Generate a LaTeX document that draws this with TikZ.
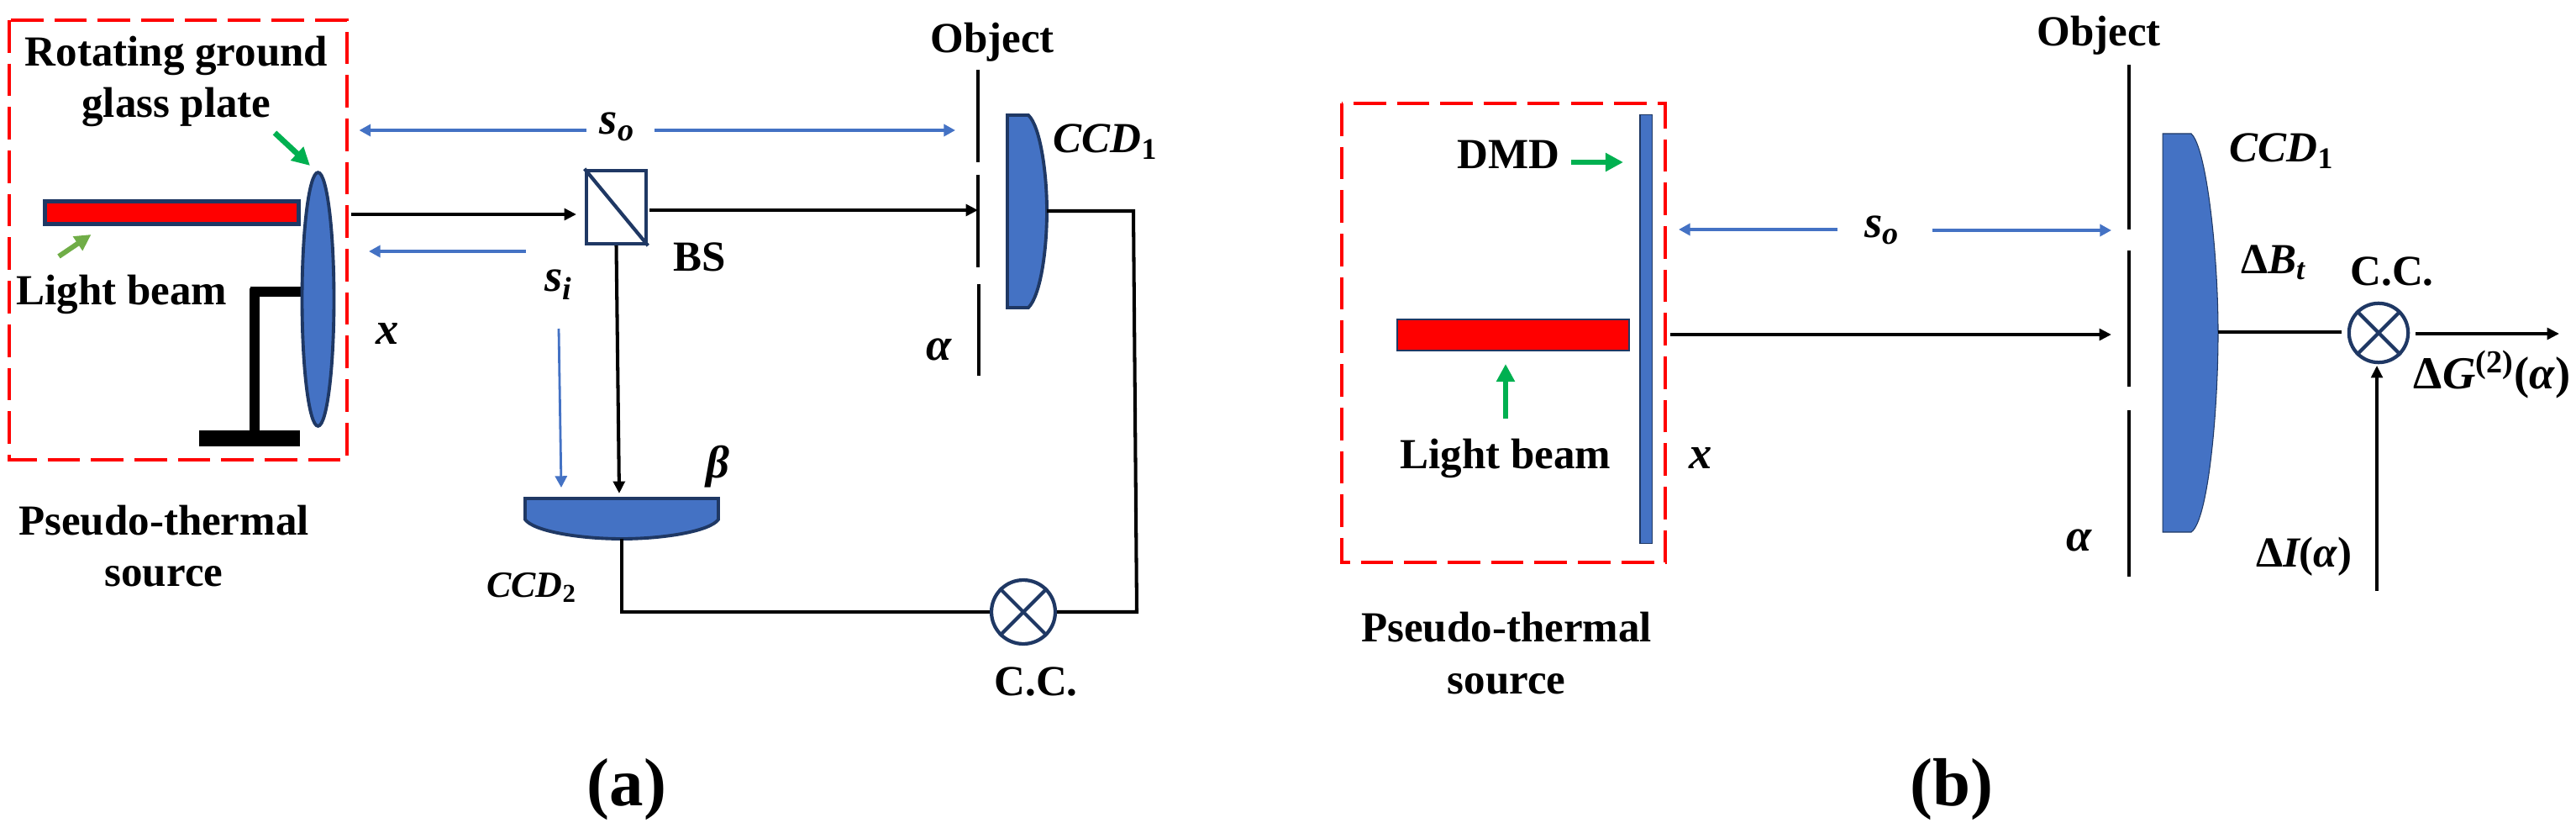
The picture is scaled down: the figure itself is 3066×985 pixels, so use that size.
\documentclass[tikz,border=0pt]{standalone}
\usepackage{fontspec}
\setmainfont{Liberation Serif}
\usetikzlibrary{arrows.meta,shapes.geometric}
\definecolor{optblue}{HTML}{4472C4}
\definecolor{edgeblue}{HTML}{1F3864}
\definecolor{mygreen}{HTML}{00B050}
\definecolor{leafgreen}{HTML}{70AD47}
\tikzset{
  lbl/.style={font=\fontsize{14.5}{17}\selectfont\bfseries,anchor=base,inner sep=0pt},
  sym/.style={font=\fontsize{15.5}{18}\selectfont\bfseries\itshape,anchor=base,inner sep=0pt},
  ccdlbl/.style={font=\fontsize{14.5}{17}\selectfont\bfseries\itshape,anchor=base,inner sep=0pt},
  wire/.style={draw,black,line width=1.15pt},
  beam/.style={wire,-{Triangle[length=4.1pt,width=3.9pt]}},
  dist/.style={draw,optblue,line width=1.1pt,-{Triangle[length=3.9pt,width=4pt]}},
  pointer/.style={draw,mygreen,line width=1.9pt,-{Triangle[length=6pt,width=6pt]}},
  srcbox/.style={draw,red,line width=1.2pt,dash pattern=on 11pt off 3.7pt},
  slit/.style={draw,black,line width=1.2pt},
  detector/.style={draw=edgeblue,fill=optblue,line width=1.1pt},
  redbar/.style={rectangle,draw=edgeblue,fill=red,inner sep=0pt},
  cross/.style={circle,draw=edgeblue,line width=1.2pt,inner sep=0pt},
  caption/.style={font=\fontsize{23}{26}\selectfont\bfseries,anchor=base,inner sep=0pt}
}
\begin{document}
\begin{tikzpicture}[x=0.01cm,y=-0.01cm]
\useasboundingbox (0,0) rectangle (3066,985);

\draw[srcbox] (11,24) rectangle (413,547);
\node[lbl] (rotA) at (210,79) {Rotating ground};
\node[lbl] (rotB) at (210,140) {glass plate};
\coordinate (rotS) at (327,158);
\coordinate (rotE) at (369,197);
\path[pointer] (rotS) -- (rotE);

\draw[black,line width=3.4pt] (303,343) -- (303,512);
\draw[black,line width=3.4pt] (298,347) -- (378,347);
\fill[black] (237,512) rectangle (357,531);
\node[redbar,line width=1.4pt,minimum width=86pt,minimum height=7.9pt] (barA) at (204.5,253) {};
\node[ellipse,detector,inner sep=0pt,minimum width=10.8pt,minimum height=85.8pt] (plate) at (378.5,356) {};

\coordinate (lgtS) at (70,305);
\coordinate (lgtE) at (108.5,279);
\path[draw,leafgreen,line width=1.7pt,-{Triangle[length=5.5pt,width=5.5pt]}] (lgtS) -- (lgtE);
\node[lbl] (lgtA) at (145,362) {Light beam};
\node[sym] (xA) at (461,409) {x};

\node[rectangle,draw=edgeblue,line width=1.3pt,inner sep=0pt,minimum width=20.2pt,minimum height=24.7pt] (bs) at (733.5,246.5) {};
\draw[edgeblue,line width=1.2pt] (bs.north west) -- (bs.south east);
\node[lbl] (bsT) at (833,322) {BS};

\coordinate (inA) at (418,255);
\coordinate (inB) at (686,255);
\path[beam] (inA) -- (inB);
\coordinate (outA) at (773,250);
\coordinate (outB) at (1164,250);
\path[beam] (outA) -- (outB);
\coordinate (downB) at (737,587);
\path[beam] (bs.south) -- (downB);

\node[sym] (soA) at (735,160) {s\textsubscript{o}};
\coordinate (soAl) at (698,155);
\coordinate (soAm) at (427.5,155);
\coordinate (soAr) at (779,155);
\coordinate (soAe) at (1137,155);
\path[dist] (soAl) -- (soAm);
\path[dist] (soAr) -- (soAe);
\node[sym] (siA) at (665,347) {s\textsubscript{i}};
\coordinate (siAr) at (626,299);
\coordinate (siAe) at (439,299);
\path[dist] (siAr) -- (siAe);
\coordinate (siDs) at (665,391);
\coordinate (siDe) at (668,580);
\path[dist,line width=0.8pt] (siDs) -- (siDe);

\node[lbl] (objA) at (1181,63) {Object};
\path[slit] (1164,83) -- (1164,193);
\path[slit] (1164,208) -- (1164,318);
\path[slit] (1165,338) -- (1165,447);
\node[sym] (alA) at (1118,428) {α};
\draw[detector] (1199,137) -- (1224,137) .. controls (1238,150) and (1246,205) .. (1246,251) .. controls (1246,300) and (1238,352) .. (1224,366) -- (1199,366) -- cycle;
\node[ccdlbl] (ccdAa) at (1316,182) {CCD\textsubscript{\upshape 1}};

\draw[detector] (625,593) -- (855,593) -- (855,618) .. controls (845,632) and (790,641) .. (740,641) .. controls (690,641) and (635,632) .. (625,618) -- cycle;
\node[sym] (beA) at (854,568) {β};
\node[ccdlbl,font=\fontsize{12.5}{15}\selectfont\bfseries\itshape] (ccdAb) at (633,710) {CCD\textsubscript{\upshape 2}};

\node[cross,minimum size=21.6pt] (ccA) at (1218,728) {};
\draw[edgeblue,line width=1.2pt] (ccA.north west) -- (ccA.south east);
\draw[edgeblue,line width=1.2pt] (ccA.north east) -- (ccA.south west);
\node[lbl] (ccT) at (1233,827) {C.C.};
\coordinate (ccdAo) at (1246,251);
\coordinate (ccdBo) at (740,641);
\path[wire] (ccdAo) -- (1349,251) -- (1353,728) -- (ccA.east);
\path[wire] (ccdBo) -- (740,728) -- (ccA.west);

\node[lbl] (srcA) at (195,636) {Pseudo-thermal};
\node[lbl] (srcB) at (195,697) {source};
\node[caption] (capA) at (746,958) {(a)};

\draw[srcbox] (1597,123) rectangle (1982,669);
\node[rectangle,draw=edgeblue,fill=optblue,line width=0.3pt,inner sep=0pt,minimum width=4pt,minimum height=145pt] (dmd) at (1959,391.5) {};
\node[lbl] (dmdT) at (1795.5,201) {DMD};
\coordinate (dmdS) at (1870,193);
\coordinate (dmdE) at (1932,193);
\path[pointer] (dmdS) -- (dmdE);
\node[redbar,line width=0.4pt,minimum width=78.4pt,minimum height=10.5pt] (barB) at (1801,398.5) {};
\coordinate (lgtBs) at (1792,498);
\coordinate (lgtBe) at (1792,433);
\path[pointer] (lgtBs) -- (lgtBe);
\node[lbl] (lgtB) at (1792,557) {Light beam};
\node[sym] (xB) at (2024,557) {x};

\coordinate (inBa) at (1988,398);
\coordinate (inBb) at (2513,398);
\path[beam] (inBa) -- (inBb);
\node[sym] (soB) at (2240,283) {s\textsubscript{o}};
\coordinate (soBl) at (2187,273);
\coordinate (soBm) at (1998,273);
\coordinate (soBr) at (2300,274);
\coordinate (soBe) at (2513,274);
\path[dist] (soBl) -- (soBm);
\path[dist] (soBr) -- (soBe);

\node[lbl] (objB) at (2498,55) {Object};
\path[slit] (2534,77) -- (2534,273);
\path[slit] (2534,298) -- (2534,460);
\path[slit] (2534,488) -- (2534,686);
\node[sym] (alB) at (2475,655) {α};
\draw[detector,line width=0.3pt] (2574,159) -- (2608,159) .. controls (2626,175) and (2640,300) .. (2640,396) .. controls (2640,490) and (2628,620) .. (2608,633) -- (2574,633) -- cycle;
\node[ccdlbl] (ccdBa) at (2716,193) {CCD\textsubscript{\upshape 1}};
\node[ccdlbl] (dbT) at (2706,325) {{\upshape Δ}B\textsubscript{t}};

\node[cross,minimum size=20pt] (ccB) at (2831,396) {};
\draw[edgeblue,line width=1.2pt] (ccB.north west) -- (ccB.south east);
\draw[edgeblue,line width=1.2pt] (ccB.north east) -- (ccB.south west);
\node[lbl] (ccTb) at (2847,339) {C.C.};
\coordinate (ccdBb) at (2640,395);
\coordinate (ccGap) at (2787,395);
\path[wire] (ccdBb) -- (ccGap);
\coordinate (gS) at (2875,397);
\coordinate (gE) at (3046,397);
\path[beam] (gS) -- (gE);
\node[sym] (gT) at (2966,462) {{\upshape Δ}G\textsuperscript{\upshape (2)}{\upshape (}α{\upshape )}};
\coordinate (iS) at (2829,703);
\coordinate (iE) at (2829,435);
\path[beam,line width=0.9pt] (iS) -- (iE);
\node[ccdlbl] (iT) at (2742,674) {{\upshape Δ}I{\upshape (}α{\upshape )}};

\node[lbl] (srcC) at (1793,763) {Pseudo-thermal};
\node[lbl] (srcD) at (1793,825) {source};
\node[caption] (capB) at (2323,958) {(b)};
\end{tikzpicture}
\end{document}
